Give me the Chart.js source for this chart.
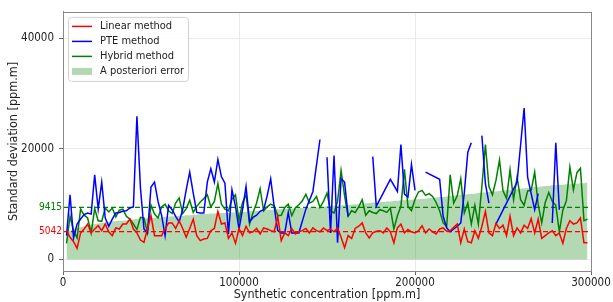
<!DOCTYPE html>
<html>
<head>
<meta charset="utf-8">
<script src="https://cdn.jsdelivr.net/npm/chart.js@4.4.1/dist/chart.umd.min.js"></script>
<style>
  html, body { margin: 0; padding: 0; background: #fff; }
</style>
</head>
<body>
<canvas id="stdChart" width="613" height="302"></canvas>
<script>
// synthetic concentration [ppm.m] of every test point
const concentration = [
    2000, 4000, 6000, 8000, 10000, 12000, 14000, 16000, 18000, 20000,
    22000, 24000, 26000, 28000, 30000, 32000, 34000, 36000, 38000, 40000,
    42000, 44000, 46000, 48000, 50000, 52000, 54000, 56000, 58000, 60000,
    62000, 64000, 66000, 68000, 70000, 72000, 74000, 76000, 78000, 80000,
    82000, 84000, 86000, 88000, 90000, 92000, 94000, 96000, 98000, 100000,
    102000, 104000, 106000, 108000, 110000, 112000, 114000, 116000, 118000, 120000,
    122000, 124000, 126000, 128000, 130000, 132000, 134000, 136000, 138000, 140000,
    142000, 144000, 146000, 148000, 150000, 152000, 154000, 156000, 158000, 160000,
    162000, 164000, 166000, 168000, 170000, 172000, 174000, 176000, 178000, 180000,
    182000, 184000, 186000, 188000, 190000, 192000, 194000, 196000, 198000, 200000,
    202000, 204000, 206000, 208000, 210000, 212000, 214000, 216000, 218000, 220000,
    222000, 224000, 226000, 228000, 230000, 232000, 234000, 236000, 238000, 240000,
    242000, 244000, 246000, 248000, 250000, 252000, 254000, 256000, 258000, 260000,
    262000, 264000, 266000, 268000, 270000, 272000, 274000, 276000, 278000, 280000,
    282000, 284000, 286000, 288000, 290000, 292000, 294000, 296000, 298000
];

const linearStd = [
    5200, 4000, 3200, 2000, 4800, 5500, 6400, 4800, 5500, 6100,
    5200, 6400, 5000, 4300, 5700, 5500, 6400, 6400, 7300, 5500,
    4800, 3500, 3100, 5600, 7900, 4300, 4300, 4300, 5500, 6600,
    6600, 5600, 7000, 5600, 4000, 5600, 7300, 4300, 3400, 3700,
    3800, 5200, 5600, 8700, 6400, 6600, 3800, 4800, 2900, 5600,
    4300, 6000, 4800, 5000, 5600, 4600, 5700, 5500, 5200, 5000,
    7800, 3400, 4800, 4300, 5600, 4600, 5000, 5200, 5600, 4800,
    5700, 5200, 5000, 5700, 5200, 5500, 5000, 5700, 4000, 2100,
    4300, 3800, 5600, 6000, 6600, 4800, 3900, 4800, 5100, 5200,
    4800, 5700, 5000, 3000, 5700, 6400, 4800, 5400, 5000, 4800,
    5200, 6100, 4800, 5500, 5000, 4600, 5500, 5700, 5100, 5200,
    5800, 6400, 3000, 5500, 3200, 3000, 5200, 3800, 6000, 8700,
    4800, 4300, 6500, 5600, 6200, 4300, 7800, 4300, 5700, 4800,
    6200, 5600, 7400, 4800, 7300, 3800, 4300, 4800, 5200, 4300,
    4800, 2900, 5600, 7000, 6400, 6600, 7500, 3000, 3000
];

const hybridStd = [
    2900, 7800, 5200, 3900, 9100, 8000, 7500, 4800, 9200, 7000,
    6900, 9300, 8600, 9300, 7700, 8900, 9100, 7800, 7300, 6400,
    5400, 7600, 7500, 4800, 9800, 8200, 7500, 9500, 10000, 8800,
    8300, 10200, 11100, 8300, 9200, 10700, 8500, 9600, 10400, 11000,
    11700, 9500, 10500, 13700, 10000, 9100, 8800, 10900, 11700, 7000,
    10300, 11700, 6400, 8500, 10200, 12800, 8800, 9500, 10000, 9700,
    7900, 8000, 9400, 10000, 7900, 9300, 9900, 10600, 11800, 10200,
    10500, 11400, 9400, 10500, 12000, 8800, 8400, 10500, 16100, 11500,
    7800, 8800, 8500, 9500, 10800, 8000, 8800, 8500, 8300, 9000,
    8800, 8500, 9300, 5500, 7900, 9600, 16300, 9600, 8800, 10900,
    12200, 12500, 11600, 11900, 11400, 10300, 8800, 6600, 6000, 15300,
    10200, 11500, 14600, 8400, 10200, 6400, 9800, 6400, 13200, 20800,
    13200, 11700, 14300, 18000, 12400, 11000, 16200, 10800, 14900, 10800,
    9800, 12400, 12500, 15800, 9900, 6600, 10300, 12100, 10500, 9800,
    5000, 8900, 10600, 16700, 12600, 15700, 16500, 7000, 7300
];

const posterioriError = [
    4600, 5200, 5500, 5700, 5800, 6000, 6200, 6300, 6400, 6500,
    6600, 6700, 6800, 6900, 6900, 7000, 7000, 7100, 7200, 7200,
    7300, 7300, 7400, 7500, 7500, 7500, 7600, 7600, 7700, 7700,
    7800, 7800, 7900, 7900, 8000, 8000, 8100, 8100, 8200, 8200,
    8200, 8300, 8300, 8300, 8400, 8400, 8400, 8500, 8500, 8500,
    8600, 8600, 8700, 8700, 8800, 8800, 8900, 8900, 9000, 9000,
    9100, 9100, 9100, 9200, 9200, 9200, 9300, 9300, 9300, 9400,
    9400, 9400, 9500, 9500, 9600, 9600, 9700, 9700, 9800, 9800,
    9900, 9900, 10000, 10000, 10100, 10100, 10200, 10300, 10300, 10400,
    10400, 10500, 10500, 10600, 10600, 10700, 10700, 10800, 10800, 10900,
    10900, 11000, 11000, 11100, 11100, 11200, 11300, 11300, 11400, 11500,
    11500, 11600, 11700, 11700, 11800, 11900, 11900, 12000, 12100, 12100,
    12200, 12300, 12300, 12400, 12500, 12500, 12600, 12700, 12700, 12800,
    12900, 12900, 13000, 13100, 13100, 13200, 13300, 13300, 13400, 13400,
    13500, 13500, 13600, 13600, 13700, 13700, 13800, 13800, 13900
];

// PTE method only has results on some points; null = no result (line break)
const pteConc = [
    2000, 4000, 6000, 8000, 10000, 12000, 14000, 16000, 18000, 20000,
    22000, 24000, 26000, 28000, 30000, 32000, 34000, 36000, 38000, 40000,
    42000, 44000, 46000, 48000, 50000, 52000, 54000, 56000, 58000, 60000,
    62000, 64000, 66000, 68000, 70000, 72000, 74000, 76000, 78000, 80000,
    82000, 84000, 86000, 88000, 90000, 92000, 94000, 96000, 98000, 100000,
    102000, 104000, 106000, 108000, 110000, 112000, 114000, 116000, 118000, 120000,
    122000, 124000, 126000, 128000, 130000, 132000, 134000, 138000, 142000, 146000,
    148000, 150000, 152000, 154000, 156000, 158000, 160000, 162000, 164000,
    176000, 178000, 186000, 190000, 192000, 194000, 196000, 198000, 200000, 202000,
    206000, 214000, 216000, 218000, 220000, 222000, 224000, 226000, 228000, 230000, 232000, 234000,
    238000, 240000, 242000, 244000,
    246000, 258000, 262000, 264000, 266000, 268000, 270000, 272000,
    278000, 280000, 282000
];
const pteStd = [
    4300, 11700, 3900, 6400, 7300, 8100, 8400, 8200, 15300, 9100,
    14000, 7500, 6000, 7300, 8400, 8500, 8700, 8800, 9300, 9500,
    25900, 13000, 5500, 4800, 13100, 14000, 10500, 8000, 4300, 9800,
    9000, 7800, 6800, 9000, 12600, 15800, 12000, 8500, 8400, 8400,
    14000, 16400, 14000, 18100, 15000, 13800, 4600, 12600, 9600, 5500,
    9000, 13200, 6800, 7600, 8000, 8700, 9000, 11500, 14600, 9500,
    5200, 4800, 4800, 8500, 4800, 4800, 4800, 9100, 12300, 21700,
    null, 18500, 4800, 18800, 3000, 14600, 14000, 7800, null,
    18600, 9600, 14500, 12300, 20800, 11800, 11300, 17200, 12500, null,
    15800, 14500, 7800, 5700, 5000, 5500, 6000, 6600, 12000, 19400, 21100, null,
    22400, 13700, 10200, null,
    6400, 14000, 27400, 14900, 11900, 9000, 11900, null,
    6600, 21100, 9000
];

const meanLevels = [9415, 5042];
const xTicks = [0, 100000, 200000, 300000];
const yTicks = [0, 20000, 40000];

const FONT = '"DejaVu Sans Condensed", "DejaVu Sans", sans-serif';
const TEXT = '#222222';

// top/right spines + mean labels
const framePlugin = {
    id: 'frame',
    afterDatasetsDraw(chart) {
        const ctx = chart.ctx;
        const a = chart.chartArea;
        const yScale = chart.scales.y;
        ctx.save();
        ctx.strokeStyle = '#888888';
        ctx.lineWidth = 1;
        ctx.strokeRect(Math.round(a.left) + 0.5, Math.round(a.top) + 0.5,
            Math.round(a.right - a.left), Math.round(a.bottom - a.top));
        ctx.font = '10px ' + FONT;
        ctx.textAlign = 'right';
        ctx.textBaseline = 'middle';
        chart.data.datasets.filter(d => d.meanLabel).forEach(d => {
            ctx.fillStyle = d.borderColor;
            ctx.fillText(String(d.meanLabel), a.left - 1, yScale.getPixelForValue(d.meanLabel));
        });
        ctx.restore();
    }
};

// legend box in the upper left corner of the plot
const legendPlugin = {
    id: 'boxLegend',
    afterDraw(chart) {
        const ctx = chart.ctx;
        const a = chart.chartArea;
        const items = chart.data.datasets.filter(d => d.inLegend);
        const x0 = a.left + 5, y0 = a.top + 5;
        const w = 120, rowH = 15, h = items.length * rowH + 4;
        ctx.save();
        ctx.beginPath();
        ctx.roundRect(x0 + 0.5, y0 + 0.5, w, h, 3);
        ctx.fillStyle = 'rgba(255,255,255,0.85)';
        ctx.fill();
        ctx.strokeStyle = '#d0d0d0';
        ctx.lineWidth = 1;
        ctx.stroke();
        ctx.font = '11px ' + FONT;
        ctx.textBaseline = 'middle';
        items.forEach((d, i) => {
            const cy = y0 + 9.5 + i * rowH;
            if (d.fill) {
                ctx.fillStyle = d.backgroundColor;
                ctx.fillRect(x0 + 4, cy - 3.5, 20, 7);
            } else {
                ctx.strokeStyle = d.borderColor;
                ctx.lineWidth = 1.5;
                ctx.beginPath();
                ctx.moveTo(x0 + 4, cy);
                ctx.lineTo(x0 + 24, cy);
                ctx.stroke();
            }
            ctx.fillStyle = TEXT;
            ctx.fillText(d.label, x0 + 32, cy);
        });
        ctx.restore();
    }
};

const lineStyle = { pointRadius: 0, borderWidth: 1.5, tension: 0, spanGaps: false, fill: false };

const ctxStd = document.getElementById('stdChart').getContext('2d');
const stdChart = new Chart(ctxStd, {
    type: 'line',
    data: {
        labels: concentration,
        datasets: [
            Object.assign({ label: 'Linear method', data: linearStd, borderColor: '#ff0000', inLegend: true }, lineStyle),
            Object.assign({ label: 'PTE method', data: pteConc.map((c, i) => ({ x: c, y: pteStd[i] })), borderColor: '#0000ff', inLegend: true }, lineStyle),
            Object.assign({ label: 'Hybrid method', data: hybridStd, borderColor: '#008000', inLegend: true }, lineStyle),
            {
                label: 'Hybrid mean', meanLabel: meanLevels[0],
                data: [{ x: 0, y: meanLevels[0] }, { x: 300000, y: meanLevels[0] }],
                borderColor: '#008000', borderDash: [5, 3], borderWidth: 1.3, pointRadius: 0, fill: false
            },
            {
                label: 'Linear mean', meanLabel: meanLevels[1],
                data: [{ x: 0, y: meanLevels[1] }, { x: 300000, y: meanLevels[1] }],
                borderColor: '#ff0000', borderDash: [5, 3], borderWidth: 1.3, pointRadius: 0, fill: false
            },
            {
                label: 'A posteriori error', data: posterioriError, inLegend: true,
                borderWidth: 0, pointRadius: 0, fill: 'origin',
                backgroundColor: 'rgba(0,128,0,0.3)', borderColor: 'rgba(0,0,0,0)'
            }
        ]
    },
    options: {
        responsive: false,
        animation: false,
        layout: { padding: { left: 0, right: 22, top: 7, bottom: 0 } },
        plugins: {
            legend: { display: false },
            tooltip: { enabled: false }
        },
        scales: {
            x: {
                type: 'linear',
                min: 0,
                max: 300000,
                afterBuildTicks: s => { s.ticks = xTicks.map(v => ({ value: v })); },
                afterFit: s => { s.height = 31; },
                grid: { color: '#ebebeb', tickColor: '#666666', tickLength: 4 },
                border: { color: '#888888' },
                ticks: {
                    autoSkip: false, maxRotation: 0, padding: 1,
                    color: TEXT, font: { family: FONT, size: 11.5 },
                    callback: v => String(v)
                },
                title: {
                    display: true, text: 'Synthetic concentration [ppm.m]',
                    color: TEXT, font: { family: FONT, size: 12.5 },
                    padding: { top: 0, bottom: 0 }
                }
            },
            y: {
                min: -2100,
                max: 44800,
                afterBuildTicks: s => { s.ticks = yTicks.map(v => ({ value: v })); },
                afterFit: s => { s.width = 63; },
                grid: { color: '#ebebeb', tickColor: '#666666', tickLength: 4 },
                border: { color: '#888888' },
                ticks: {
                    padding: 5, color: TEXT, font: { family: FONT, size: 11.5 },
                    callback: v => String(v)
                },
                title: {
                    display: true, text: 'Standard deviation [ppm.m]',
                    color: TEXT, font: { family: FONT, size: 12.5 },
                    padding: { top: 6, bottom: 0 }
                }
            }
        }
    },
    plugins: [framePlugin, legendPlugin]
});
</script>
</body>
</html>
